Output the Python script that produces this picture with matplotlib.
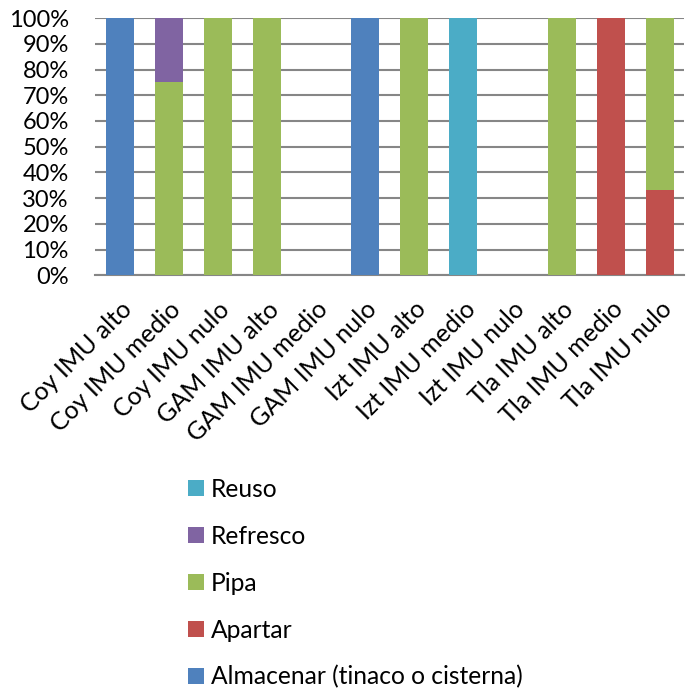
import numpy as np
import matplotlib
matplotlib.use("Agg")
import matplotlib.pyplot as plt

categories = ["Coy IMU alto", "Coy IMU medio", "Coy IMU nulo", "GAM IMU alto",
              "GAM IMU medio", "GAM IMU nulo", "Izt IMU alto", "Izt IMU medio",
              "Izt IMU nulo", "Tla IMU alto", "Tla IMU medio", "Tla IMU nulo"]

# share of each answer per group (%)
almacenar = [100, 0, 0, 0, 0, 100, 0, 0, 0, 0, 0, 0]
apartar   = [0, 0, 0, 0, 0, 0, 0, 0, 0, 0, 100, 33.3]
pipa      = [0, 75, 100, 100, 0, 0, 100, 0, 0, 100, 0, 66.7]
refresco  = [0, 25, 0, 0, 0, 0, 0, 0, 0, 0, 0, 0]
reuso     = [0, 0, 0, 0, 0, 0, 0, 100, 0, 0, 0, 0]

series = [("Almacenar (tinaco o cisterna)", almacenar, "#4F81BD"),
          ("Apartar", apartar, "#C0504D"),
          ("Pipa", pipa, "#9BBB59"),
          ("Refresco", refresco, "#8064A2"),
          ("Reuso", reuso, "#4BACC6")]

plt.rcParams['font.family'] = ['Lato', 'DejaVu Sans']

fig = plt.figure(figsize=(6.99, 6.95), dpi=100)
ax = fig.add_axes([0.136, 0.604, 0.843, 0.370])

x = np.arange(len(categories))
bottom = np.zeros(len(categories))
handles = []
for name, vals, col in series:
    vals = np.array(vals, dtype=float)
    b = ax.bar(x, vals, 0.57, bottom=bottom, color=col, label=name, zorder=3)
    bottom += vals
    handles.append(b)

ax.set_xlim(-0.5, len(categories) - 0.5)
ax.set_ylim(0, 100)
ax.set_yticks(np.arange(0, 101, 10))
ax.set_yticklabels([f"{v}%" for v in range(0, 101, 10)], fontsize=17)
ax.yaxis.grid(True, color="#868686", linewidth=1.5, zorder=0)
ax.set_xticks(x)
ax.set_xticklabels(categories, rotation=45, ha="right", rotation_mode="anchor", fontsize=18)
ax.tick_params(length=0)
ax.tick_params(axis="y", pad=19)
ax.tick_params(axis="x", pad=16)
for s in ["top", "right", "left"]:
    ax.spines[s].set_visible(False)
ax.spines["bottom"].set_color("#868686")
ax.spines["bottom"].set_linewidth(1.5)

leg = fig.legend(handles[::-1], [s[0] for s in series][::-1],
                 loc="upper left", bbox_to_anchor=(0.238, 0.344),
                 frameon=False, fontsize=17.7, handlelength=0.62, handleheight=0.62,
                 handletextpad=0.3, labelspacing=0.97)

fig.savefig("out.png", dpi=100)
